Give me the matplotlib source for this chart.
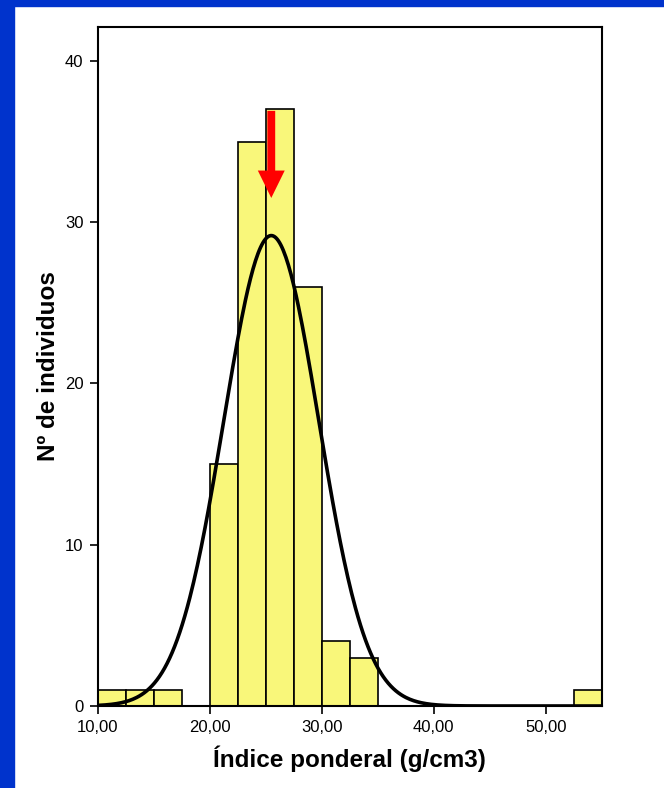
import matplotlib.pyplot as plt
import numpy as np
from matplotlib.patches import Rectangle, FancyArrow

plt.rcParams['font.family'] = ['Liberation Sans', 'DejaVu Sans']

# Histogram bins (width 2.5) and counts
bin_left = [10.0, 12.5, 15.0, 20.0, 22.5, 25.0, 27.5, 30.0, 32.5, 52.5]
counts = [1, 1, 1, 15, 35, 37, 26, 4, 3, 1]
bin_width = 2.5

# Fitted normal curve parameters (estimated)
fit_mean = 25.5
fit_sd = 4.24

x_ticks = [10, 20, 30, 40, 50]
x_tick_labels = ['10,00', '20,00', '30,00', '40,00', '50,00']
y_ticks = [0, 10, 20, 30, 40]

fig = plt.figure(figsize=(6.64, 7.88), dpi=100)
fig.patch.set_facecolor('white')

# blue frame on the left and top
blue = '#0033CC'
fig.add_artist(Rectangle((0, 0), 14 / 664, 1, transform=fig.transFigure, color=blue, zorder=0))
fig.add_artist(Rectangle((0, 1 - 6 / 788), 1, 6 / 788, transform=fig.transFigure, color=blue, zorder=0))

ax = fig.add_axes([97.5 / 664, 1 - 706 / 788, (602 - 97.5) / 664, (706 - 27) / 788])
ax.bar(bin_left, counts, width=bin_width, align='edge', color='#F9F77A',
       edgecolor='black', linewidth=1.2, zorder=2)

n = sum(counts)
xs = np.linspace(10, 55, 400)
curve = n * bin_width / (fit_sd * np.sqrt(2 * np.pi)) * np.exp(-(xs - fit_mean) ** 2 / (2 * fit_sd ** 2))
ax.plot(xs, curve, color='black', linewidth=2.6, zorder=3)

# red arrow marking the mode
ax.add_patch(FancyArrow(fit_mean, 36.9, 0, -5.4, width=0.7, head_width=2.4, head_length=1.7,
                        length_includes_head=True, color='#FF0000', linewidth=0, zorder=4))

ax.set_xlim(10, 55)
ax.set_ylim(0, 42.1)
ax.set_xticks(x_ticks)
ax.set_xticklabels(x_tick_labels)
ax.set_yticks(y_ticks)
ax.tick_params(direction='out', length=6, width=1.2, labelsize=12, colors='black', pad=4)
for s in ax.spines.values():
    s.set_linewidth(1.5)

ax.set_xlabel('Índice ponderal (g/cm3)', fontsize=17.5, fontweight='bold', labelpad=8)
ax.set_ylabel('Nº de individuos', fontsize=17.5, fontweight='bold', labelpad=3.5)

fig.savefig('out.png', dpi=100, facecolor='white')
